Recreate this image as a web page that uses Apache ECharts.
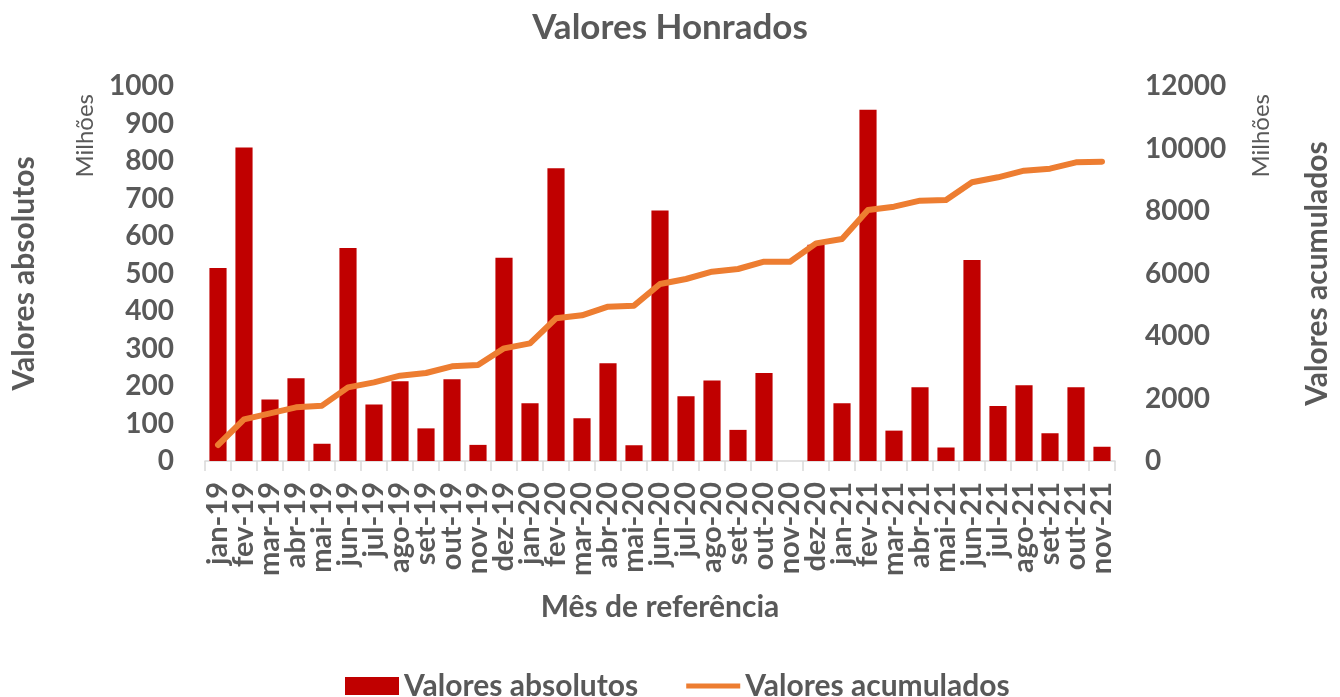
<!DOCTYPE html>
<html>
<head>
<meta charset="utf-8">
<script src="https://cdn.jsdelivr.net/npm/echarts@6/dist/echarts.min.js"></script>
<style>
html,body{margin:0;padding:0;background:#fff;}
#chart{width:1340px;height:697px;}
</style>
</head>
<body>
<div id="chart"></div>
<script>
var categories = ['jan-19','fev-19','mar-19','abr-19','mai-19','jun-19','jul-19','ago-19','set-19','out-19','nov-19','dez-19',
  'jan-20','fev-20','mar-20','abr-20','mai-20','jun-20','jul-20','ago-20','set-20','out-20','nov-20','dez-20',
  'jan-21','fev-21','mar-21','abr-21','mai-21','jun-21','jul-21','ago-21','set-21','out-21','nov-21'];
var valoresAbsolutos = [515,836,164,221,46,568,151,213,87,218,43,542,
  154,781,114,261,42,668,173,215,83,235,0,577,
  154,937,81,197,36,536,147,202,74,197,38];
var valoresAcumulados = [512,1334,1525,1717,1771,2357,2517,2731,2816,3029,3072,3605,
  3765,4565,4661,4939,4971,5664,5824,6058,6144,6378,6378,6965,
  7104,8032,8138,8330,8352,8918,9078,9290,9354,9558,9578];
var leftTicks = {min:0, max:1000, interval:100};
var rightTicks = {min:0, max:12000, interval:2000};

var FONT = 'Lato';
var TXT = '#595959';
var chart = echarts.init(document.getElementById('chart'), null, {renderer:'canvas'});
chart.setOption({
  animation:false,
  textStyle:{fontFamily:FONT},
  title:{text:'Valores Honrados', left:'center', top:5,
    textStyle:{fontFamily:FONT, fontSize:35, fontWeight:'bold', color:TXT}},
  grid:{left:205, right:213, top:86, bottom:236},
  legend:{bottom:-9, left:340, itemWidth:54, itemHeight:18, itemGap:48,
    textStyle:{fontFamily:FONT, fontSize:30, fontWeight:'bold', color:TXT},
    data:[{name:'Valores absolutos', icon:'rect'},
          {name:'Valores acumulados', icon:'path://M0,0 L54,0 L54,5 L0,5 Z'}]},
  graphic:[
    {type:'text', left:73, top:94, rotation:Math.PI/2,
      style:{text:'Milhões', fontFamily:FONT, fontSize:24, fill:TXT}},
    {type:'text', left:1249, top:94, rotation:Math.PI/2,
      style:{text:'Milhões', fontFamily:FONT, fontSize:24, fill:TXT}}
  ],
  xAxis:{type:'category', data:categories,
    name:'Mês de referência', nameLocation:'middle', nameGap:131,
    nameTextStyle:{fontFamily:FONT, fontSize:30, fontWeight:'bold', color:TXT},
    axisLine:{lineStyle:{color:'#D9D9D9', width:1.5}},
    axisTick:{show:true, length:10, lineStyle:{color:'#D9D9D9', width:1.5}},
    axisLabel:{interval:0, rotate:90, margin:21, fontFamily:FONT, fontSize:29, fontWeight:'bold', color:TXT}},
  yAxis:[
    {type:'value', min:leftTicks.min, max:leftTicks.max, interval:leftTicks.interval,
      name:'Valores absolutos', nameLocation:'middle', nameRotate:90, nameGap:166,
      nameTextStyle:{fontFamily:FONT, fontSize:30, fontWeight:'bold', color:TXT},
      splitLine:{show:false}, axisLine:{show:false}, axisTick:{show:false},
      axisLabel:{margin:31, fontFamily:FONT, fontSize:28, fontWeight:'bold', color:TXT,
        formatter:function(v){return String(v);}}},
    {type:'value', min:rightTicks.min, max:rightTicks.max, interval:rightTicks.interval,
      name:'Valores acumulados', nameLocation:'middle', nameRotate:90, nameGap:187,
      nameTextStyle:{fontFamily:FONT, fontSize:30, fontWeight:'bold', color:TXT},
      splitLine:{show:false}, axisLine:{show:false}, axisTick:{show:false},
      axisLabel:{margin:30, fontFamily:FONT, fontSize:28, fontWeight:'bold', color:TXT,
        formatter:function(v){return String(v);}}}
  ],
  series:[
    {name:'Valores absolutos', type:'bar', data:valoresAbsolutos, yAxisIndex:0,
      barCategoryGap:'34%', itemStyle:{color:'#C00000'}},
    {name:'Valores acumulados', type:'line', data:valoresAcumulados, yAxisIndex:1,
      showSymbol:false, symbol:'none', lineStyle:{color:'#ED7D31', width:6, cap:'round', join:'round'},
      itemStyle:{color:'#ED7D31'}}
  ]
});
</script>
</body>
</html>
